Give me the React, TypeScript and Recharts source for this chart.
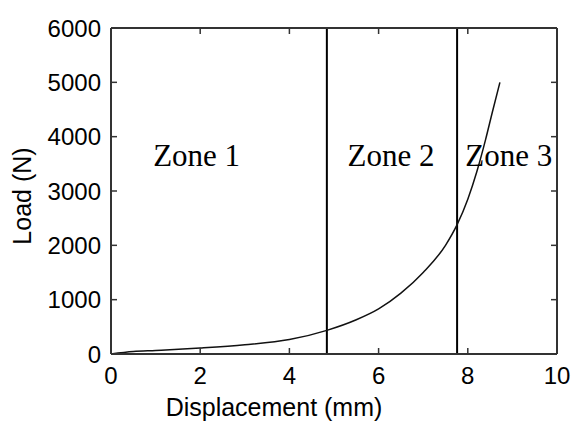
import { LineChart, Line, XAxis, YAxis, ReferenceLine, ReferenceDot } from "recharts"

const displacement = [0, 0.5, 1, 2, 3, 4, 4.84, 5.5, 6, 6.5, 7, 7.5, 7.76, 8, 8.2, 8.4, 8.55, 8.72]
const load = [0, 45, 65, 110, 170, 265, 435, 630, 830, 1120, 1500, 2000, 2380, 2850, 3350, 3950, 4450, 5000]

const xTicks = [0, 2, 4, 6, 8, 10]
const yTicks = [0, 1000, 2000, 3000, 4000, 5000, 6000]

const zoneBounds = [4.84, 7.76]
const zoneNames = ["Zone 1", "Zone 2", "Zone 3"]
const zoneX = [1.92, 6.28, 8.92]
const zoneY = 3460

const data = displacement.map((d, i) => ({ d, load: load[i] }))

const axisColor = "#333"
const sans = "'Liberation Sans', Arial, sans-serif"
const axisStyle = { stroke: axisColor, strokeWidth: 2 }
const tickStyle = { stroke: axisColor, strokeWidth: 1.5 }

const BottomTick = (props: any) => {
  const { x, y, payload } = props
  return (
    <text x={x} y={y + 30} textAnchor="middle" fontFamily={sans} fontSize={24} fill="#000">
      {payload.value}
    </text>
  )
}

const LeftTick = (props: any) => {
  const { x, y, payload } = props
  return (
    <text x={x - 10} y={y} dy="0.36em" textAnchor="end" fontFamily={sans} fontSize={24} fill="#000">
      {payload.value}
    </text>
  )
}

// top/right axes only carry tick marks
const NoLabel = () => null

export default function App() {
  return (
    <div style={{ position: "absolute", left: 0, top: 0, background: "#fff" }}>
      <LineChart width={572} height={422} data={data} margin={{ top: 27, right: 14, left: 0, bottom: 0 }}>
        <XAxis
          dataKey="d"
          type="number"
          domain={[0, 10]}
          ticks={xTicks}
          height={68}
          tickSize={-6}
          tickMargin={6}
          tickLine={tickStyle}
          axisLine={axisStyle}
          tick={<BottomTick />}
          label={{
            content: (p: any) => (
              <text
                x={p.viewBox.x + p.viewBox.width / 2 - 60}
                y={p.viewBox.y + 62}
                textAnchor="middle"
                fontFamily={sans}
                fontSize={25}
                fill="#000"
              >
                Displacement (mm)
              </text>
            ),
          }}
        />
        <XAxis
          xAxisId="top"
          orientation="top"
          type="number"
          dataKey="d"
          domain={[0, 10]}
          ticks={xTicks}
          height={1}
          tickSize={-6}
          tickLine={tickStyle}
          axisLine={axisStyle}
          tick={<NoLabel />}
        />
        <YAxis
          type="number"
          domain={[0, 6000]}
          ticks={yTicks}
          width={111}
          tickSize={-6}
          tickMargin={6}
          tickLine={tickStyle}
          axisLine={axisStyle}
          tick={<LeftTick />}
          label={{
            content: (p: any) => (
              <text
                x={p.viewBox.x + 31}
                y={p.viewBox.y + p.viewBox.height / 2 + 5}
                transform={`rotate(-90 ${p.viewBox.x + 31} ${p.viewBox.y + p.viewBox.height / 2 + 5})`}
                textAnchor="middle"
                fontFamily={sans}
                fontSize={25}
                fill="#000"
              >
                Load (N)
              </text>
            ),
          }}
        />
        <YAxis
          yAxisId="right"
          orientation="right"
          type="number"
          domain={[0, 6000]}
          ticks={yTicks}
          width={1}
          tickSize={-6}
          tickLine={tickStyle}
          axisLine={axisStyle}
          tick={<NoLabel />}
        />
        {zoneBounds.map((b) => (
          <ReferenceLine key={b} x={b} stroke="#000" strokeWidth={2} />
        ))}
        {zoneNames.map((name, i) => (
          <ReferenceDot
            key={name}
            x={zoneX[i]}
            y={zoneY}
            r={0}
            shape={(p: any) => (
              <text
                x={p.cx}
                y={p.cy}
                textAnchor="middle"
                fontFamily="'Liberation Serif', 'Times New Roman', serif"
                fontSize={31}
                fill="#000"
              >
                {name}
              </text>
            )}
          />
        ))}
        <Line
          xAxisId="top"
          yAxisId="right"
          type="monotone"
          dataKey="load"
          stroke="none"
          dot={false}
          activeDot={false}
          isAnimationActive={false}
        />
        <Line
          type="monotone"
          dataKey="load"
          stroke="#111"
          strokeWidth={1.5}
          dot={false}
          isAnimationActive={false}
        />
      </LineChart>
    </div>
  )
}
